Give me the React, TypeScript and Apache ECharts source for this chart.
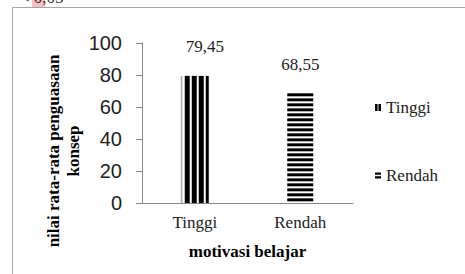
import React, { useEffect, useRef } from "react";
import * as echarts from "echarts";

const categories = ["Tinggi", "Rendah"];
const seriesNames = ["Tinggi", "Rendah"];
const seriesValues = [79.45, 68.55];
const yMin = 0;
const yMax = 100;
const yInterval = 20;
const xAxisName = "motivasi belajar";
const yAxisName = "nilai rata-rata penguasaan\nkonsep";
const noteText = "< 0,05";

const SERIF = "Liberation Serif";
const SANS = "Liberation Sans";

const fmt = (v: number) => String(v).replace(".", ",");

function makeLabel(x: number, y: number, v: number) {
  return {
    type: "text",
    x,
    y,
    style: {
      text: fmt(v),
      fontSize: 17,
      fontFamily: SERIF,
      fill: "#222",
      align: "center",
      verticalAlign: "middle",
    },
  };
}

function renderVertical(params: any, api: any) {
  const c = api.value(0);
  const v = api.value(1);
  const base = api.coord([c, 0]);
  const top = api.coord([c, v]);
  const w = 28;
  const x0 = base[0] - w / 2;
  const y0 = top[1];
  const h = base[1] - top[1];
  const children: any[] = [
    { type: "rect", shape: { x: x0, y: y0, width: 1.6, height: h }, style: { fill: "#aaa" } },
  ];
  for (let x = x0 + 4; x < x0 + w; x += 7) {
    children.push({
      type: "rect",
      shape: { x, y: y0, width: Math.min(5, x0 + w - x), height: h },
      style: { fill: "#000" },
    });
  }
  children.push(makeLabel(base[0] + 10, y0 - 29, v));
  return { type: "group", children };
}

function renderHorizontal(params: any, api: any) {
  const c = api.value(0);
  const v = api.value(1);
  const base = api.coord([c, 0]);
  const top = api.coord([c, v]);
  const w = 26;
  const x0 = base[0] - w / 2;
  const y0 = top[1];
  const children: any[] = [];
  for (let y = y0; y < base[1]; y += 5) {
    children.push({
      type: "rect",
      shape: { x: x0, y, width: w, height: Math.min(3, base[1] - y) },
      style: { fill: "#000" },
    });
  }
  children.push(makeLabel(base[0], y0 - 29, v));
  return { type: "group", children };
}

const legendIcons = [
  "path://M0,0h3v8h-3zM4,0h3v8h-3z",
  "path://M0,0h8v3h-8zM0,5h8v3h-8z",
];

export default function App() {
  const ref = useRef<HTMLDivElement>(null);
  useEffect(() => {
    if (!ref.current) return;
    const chart = echarts.init(ref.current, null, { renderer: "svg" });
    chart.setOption({
      animation: false,
      backgroundColor: "#fff",
      grid: { left: 142, right: 112, top: 43, bottom: 71, containLabel: false },
      legend: {
        orient: "vertical",
        left: 375,
        top: 99,
        padding: 0,
        itemWidth: 6,
        itemHeight: 8,
        itemGap: 51,
        textStyle: { fontFamily: SERIF, fontSize: 17, color: "#222" },
        data: seriesNames.map((n, i) => ({ name: n, icon: legendIcons[i] })),
      },
      xAxis: {
        type: "category",
        data: categories,
        axisLine: { lineStyle: { color: "#868686" } },
        axisTick: { show: false },
        axisLabel: { fontFamily: SERIF, fontSize: 17, color: "#222", margin: 11 },
        name: xAxisName,
        nameLocation: "middle",
        nameGap: 40,
        nameTextStyle: { fontFamily: SERIF, fontSize: 17, fontWeight: "bold", color: "#000" },
      },
      yAxis: {
        type: "value",
        min: yMin,
        max: yMax,
        interval: yInterval,
        splitLine: { show: false },
        axisLine: { show: true, lineStyle: { color: "#868686" } },
        axisTick: { show: true, length: 6, lineStyle: { color: "#868686" } },
        axisLabel: { fontFamily: SANS, fontSize: 20, color: "#222", margin: 20 },
      },
      series: seriesNames.map((name, i) => ({
        type: "custom",
        name,
        data: [[i, seriesValues[i]]],
        encode: { x: 0, y: 1 },
        itemStyle: { color: "#000" },
        renderItem: i === 0 ? renderVertical : renderHorizontal,
      })),
      graphic: [
        { type: "line", shape: { x1: 12.5, y1: 7.5, x2: 465, y2: 7.5 }, style: { stroke: "#a6a6a6", lineWidth: 1 } },
        { type: "line", shape: { x1: 12.5, y1: 7.5, x2: 12.5, y2: 274 }, style: { stroke: "#a6a6a6", lineWidth: 1 } },
        { type: "rect", shape: { x: 32, y: 0, width: 13, height: 7 }, style: { fill: "#f6c0c0" } },
        {
          type: "text",
          x: 20,
          y: 6,
          style: { text: noteText, fontSize: 17, fontFamily: SERIF, fill: "#333", verticalAlign: "bottom" },
        },
        {
          type: "text",
          x: 63,
          y: 151,
          rotation: Math.PI / 2,
          style: {
            text: yAxisName,
            fontSize: 17,
            fontWeight: "bold",
            fontFamily: SERIF,
            lineHeight: 20,
            fill: "#000",
            align: "center",
            verticalAlign: "middle",
          },
        },
      ],
    });
    return () => chart.dispose();
  }, []);
  return (
    <div
      ref={ref}
      style={{ position: "absolute", left: 0, top: 0, width: 465, height: 274, background: "#fff" }}
    />
  );
}
